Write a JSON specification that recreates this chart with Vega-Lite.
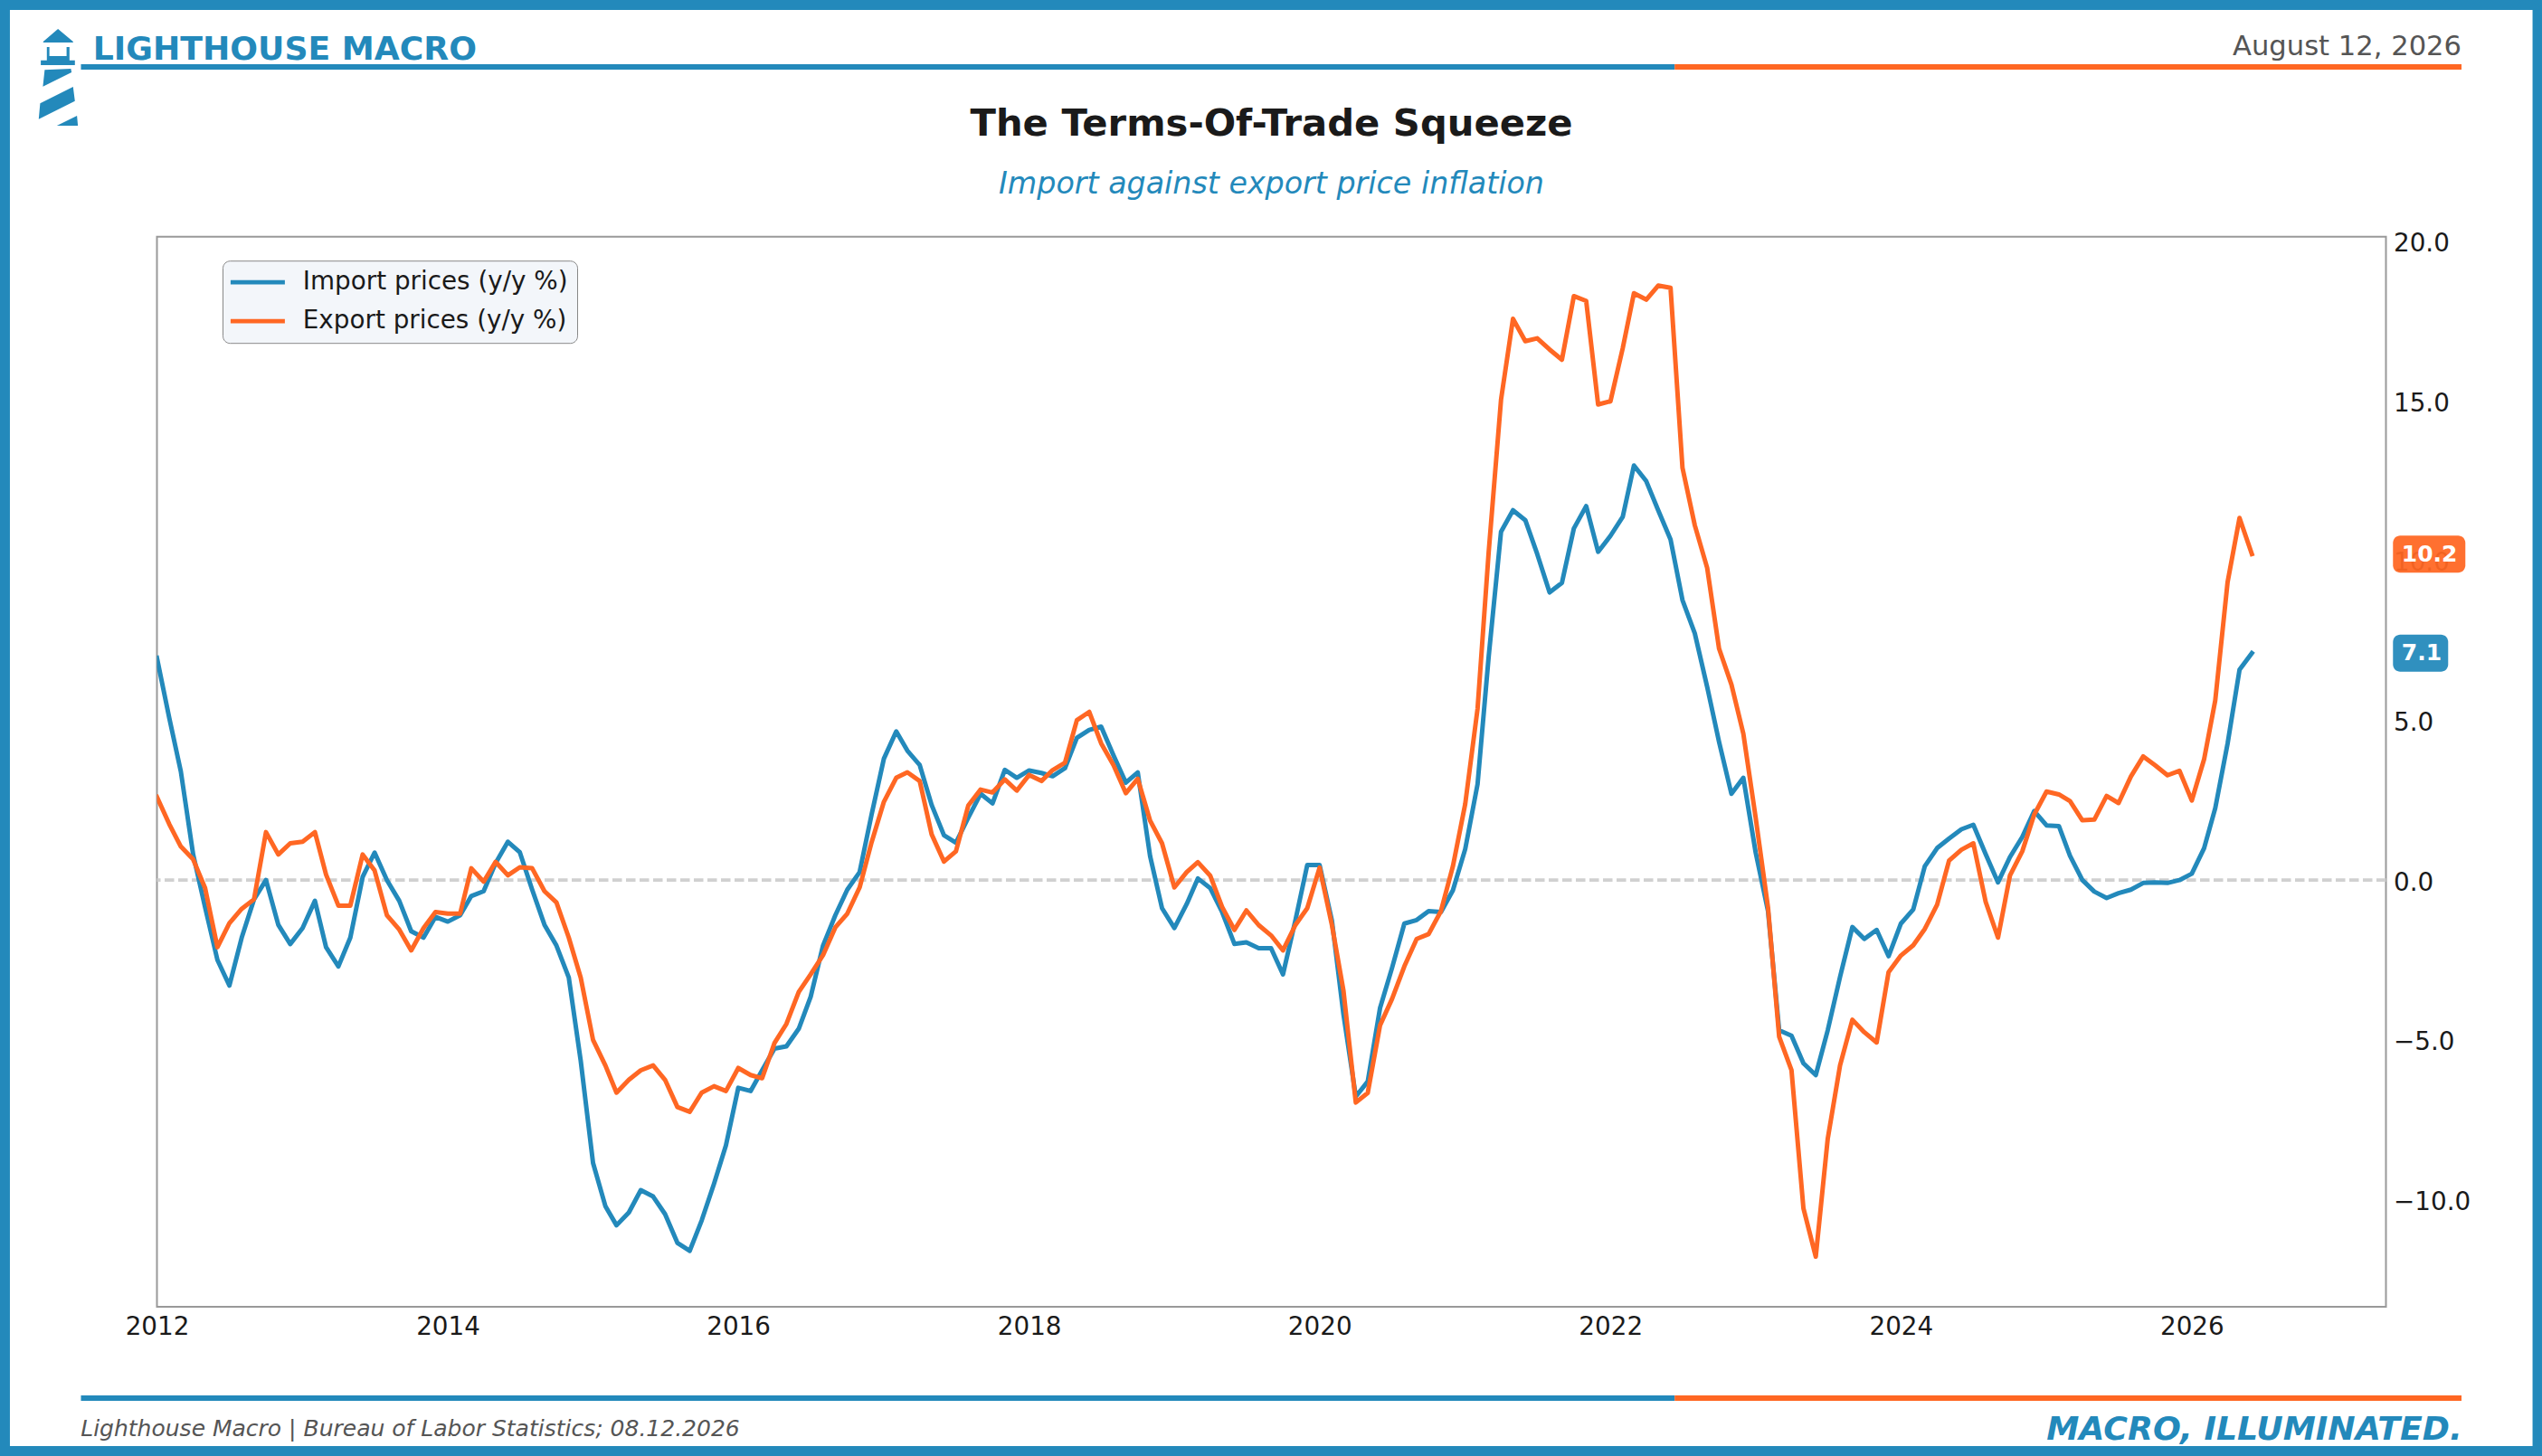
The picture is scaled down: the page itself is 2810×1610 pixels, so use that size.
{
  "$schema": "https://vega.github.io/schema/vega-lite/v6.json",
  "width": 2464,
  "height": 1183.3,
  "autosize": "none",
  "padding": {"left": 173.5, "top": 261.7, "right": 172.5, "bottom": 165},
  "background": "white",
  "title": {
    "text": "The Terms-Of-Trade Squeeze",
    "subtitle": "Import against export price inflation",
    "anchor": "middle",
    "frame": "group",
    "font": "DejaVu Sans",
    "fontSize": 41.7,
    "fontWeight": "bold",
    "color": "#1a1a1a",
    "subtitleFont": "DejaVu Sans",
    "subtitleFontSize": 33.3,
    "subtitleFontStyle": "italic",
    "subtitleColor": "#2389BB",
    "subtitlePadding": 29.5,
    "offset": -220
  },
  "datasets": {
    "imports": [
      {"date":"2012-01-01","value":6.95},{"date":"2012-02-01","value":5.07},{"date":"2012-03-01","value":3.4},{"date":"2012-04-01","value":0.8},{"date":"2012-05-01","value":-0.85},{"date":"2012-06-01","value":-2.5},{"date":"2012-07-01","value":-3.3},{"date":"2012-08-01","value":-1.8},{"date":"2012-09-01","value":-0.6},{"date":"2012-10-01","value":0},{"date":"2012-11-01","value":-1.4},{"date":"2012-12-01","value":-2.0},
      {"date":"2013-01-01","value":-1.5},{"date":"2013-02-01","value":-0.65},{"date":"2013-03-01","value":-2.1},{"date":"2013-04-01","value":-2.7},{"date":"2013-05-01","value":-1.8},{"date":"2013-06-01","value":0.1},{"date":"2013-07-01","value":0.86},{"date":"2013-08-01","value":0},{"date":"2013-09-01","value":-0.65},{"date":"2013-10-01","value":-1.6},{"date":"2013-11-01","value":-1.8},{"date":"2013-12-01","value":-1.15},
      {"date":"2014-01-01","value":-1.3},{"date":"2014-02-01","value":-1.1},{"date":"2014-03-01","value":-0.5},{"date":"2014-04-01","value":-0.35},{"date":"2014-05-01","value":0.53},{"date":"2014-06-01","value":1.2},{"date":"2014-07-01","value":0.87},{"date":"2014-08-01","value":-0.3},{"date":"2014-09-01","value":-1.4},{"date":"2014-10-01","value":-2.05},{"date":"2014-11-01","value":-3.05},{"date":"2014-12-01","value":-5.65},
      {"date":"2015-01-01","value":-8.85},{"date":"2015-02-01","value":-10.2},{"date":"2015-03-01","value":-10.8},{"date":"2015-04-01","value":-10.4},{"date":"2015-05-01","value":-9.7},{"date":"2015-06-01","value":-9.9},{"date":"2015-07-01","value":-10.45},{"date":"2015-08-01","value":-11.35},{"date":"2015-09-01","value":-11.6},{"date":"2015-10-01","value":-10.65},{"date":"2015-11-01","value":-9.5},{"date":"2015-12-01","value":-8.3},
      {"date":"2016-01-01","value":-6.5},{"date":"2016-02-01","value":-6.6},{"date":"2016-03-01","value":-5.95},{"date":"2016-04-01","value":-5.27},{"date":"2016-05-01","value":-5.2},{"date":"2016-06-01","value":-4.65},{"date":"2016-07-01","value":-3.65},{"date":"2016-08-01","value":-2.05},{"date":"2016-09-01","value":-1.1},{"date":"2016-10-01","value":-0.3},{"date":"2016-11-01","value":0.25},{"date":"2016-12-01","value":2.05},
      {"date":"2017-01-01","value":3.8},{"date":"2017-02-01","value":4.65},{"date":"2017-03-01","value":4.05},{"date":"2017-04-01","value":3.6},{"date":"2017-05-01","value":2.35},{"date":"2017-06-01","value":1.4},{"date":"2017-07-01","value":1.17},{"date":"2017-08-01","value":1.95},{"date":"2017-09-01","value":2.7},{"date":"2017-10-01","value":2.4},{"date":"2017-11-01","value":3.45},{"date":"2017-12-01","value":3.2},
      {"date":"2018-01-01","value":3.43},{"date":"2018-02-01","value":3.35},{"date":"2018-03-01","value":3.25},{"date":"2018-04-01","value":3.5},{"date":"2018-05-01","value":4.45},{"date":"2018-06-01","value":4.7},{"date":"2018-07-01","value":4.8},{"date":"2018-08-01","value":3.9},{"date":"2018-09-01","value":3.05},{"date":"2018-10-01","value":3.37},{"date":"2018-11-01","value":0.75},{"date":"2018-12-01","value":-0.88},
      {"date":"2019-01-01","value":-1.5},{"date":"2019-02-01","value":-0.75},{"date":"2019-03-01","value":0.05},{"date":"2019-04-01","value":-0.25},{"date":"2019-05-01","value":-1.0},{"date":"2019-06-01","value":-2.0},{"date":"2019-07-01","value":-1.95},{"date":"2019-08-01","value":-2.13},{"date":"2019-09-01","value":-2.13},{"date":"2019-10-01","value":-2.95},{"date":"2019-11-01","value":-1.27},{"date":"2019-12-01","value":0.47},
      {"date":"2020-01-01","value":0.47},{"date":"2020-02-01","value":-1.27},{"date":"2020-03-01","value":-4.2},{"date":"2020-04-01","value":-6.77},{"date":"2020-05-01","value":-6.3},{"date":"2020-06-01","value":-4.0},{"date":"2020-07-01","value":-2.75},{"date":"2020-08-01","value":-1.36},{"date":"2020-09-01","value":-1.25},{"date":"2020-10-01","value":-0.97},{"date":"2020-11-01","value":-1.0},{"date":"2020-12-01","value":-0.32},
      {"date":"2021-01-01","value":0.97},{"date":"2021-02-01","value":3.0},{"date":"2021-03-01","value":7.0},{"date":"2021-04-01","value":10.9},{"date":"2021-05-01","value":11.57},{"date":"2021-06-01","value":11.26},{"date":"2021-07-01","value":10.2},{"date":"2021-08-01","value":9.0},{"date":"2021-09-01","value":9.3},{"date":"2021-10-01","value":11.0},{"date":"2021-11-01","value":11.7},{"date":"2021-12-01","value":10.27},
      {"date":"2022-01-01","value":10.77},{"date":"2022-02-01","value":11.37},{"date":"2022-03-01","value":12.97},{"date":"2022-04-01","value":12.48},{"date":"2022-05-01","value":11.57},{"date":"2022-06-01","value":10.66},{"date":"2022-07-01","value":8.76},{"date":"2022-08-01","value":7.72},{"date":"2022-09-01","value":6.05},{"date":"2022-10-01","value":4.32},{"date":"2022-11-01","value":2.7},{"date":"2022-12-01","value":3.2},
      {"date":"2023-01-01","value":0.86},{"date":"2023-02-01","value":-0.97},{"date":"2023-03-01","value":-4.7},{"date":"2023-04-01","value":-4.87},{"date":"2023-05-01","value":-5.73},{"date":"2023-06-01","value":-6.1},{"date":"2023-07-01","value":-4.7},{"date":"2023-08-01","value":-3.03},{"date":"2023-09-01","value":-1.47},{"date":"2023-10-01","value":-1.84},{"date":"2023-11-01","value":-1.56},{"date":"2023-12-01","value":-2.38},
      {"date":"2024-01-01","value":-1.36},{"date":"2024-02-01","value":-0.92},{"date":"2024-03-01","value":0.43},{"date":"2024-04-01","value":1.0},{"date":"2024-05-01","value":1.3},{"date":"2024-06-01","value":1.59},{"date":"2024-07-01","value":1.73},{"date":"2024-08-01","value":0.81},{"date":"2024-09-01","value":-0.07},{"date":"2024-10-01","value":0.72},{"date":"2024-11-01","value":1.35},{"date":"2024-12-01","value":2.16},
      {"date":"2025-01-01","value":1.71},{"date":"2025-02-01","value":1.69},{"date":"2025-03-01","value":0.76},{"date":"2025-04-01","value":0},{"date":"2025-05-01","value":-0.36},{"date":"2025-06-01","value":-0.56},{"date":"2025-07-01","value":-0.41},{"date":"2025-08-01","value":-0.3},{"date":"2025-09-01","value":-0.09},{"date":"2025-10-01","value":-0.07},{"date":"2025-11-01","value":-0.09},{"date":"2025-12-01","value":0},
      {"date":"2026-01-01","value":0.2},{"date":"2026-02-01","value":1.0},{"date":"2026-03-01","value":2.25},{"date":"2026-04-01","value":4.27},{"date":"2026-05-01","value":6.58},{"date":"2026-06-01","value":7.1}
    ],
    "exports": [
      {"date":"2012-01-01","value":2.6},{"date":"2012-02-01","value":1.75},{"date":"2012-03-01","value":1.05},{"date":"2012-04-01","value":0.65},{"date":"2012-05-01","value":-0.25},{"date":"2012-06-01","value":-2.1},{"date":"2012-07-01","value":-1.35},{"date":"2012-08-01","value":-0.9},{"date":"2012-09-01","value":-0.6},{"date":"2012-10-01","value":1.5},{"date":"2012-11-01","value":0.8},{"date":"2012-12-01","value":1.15},
      {"date":"2013-01-01","value":1.2},{"date":"2013-02-01","value":1.5},{"date":"2013-03-01","value":0.17},{"date":"2013-04-01","value":-0.8},{"date":"2013-05-01","value":-0.8},{"date":"2013-06-01","value":0.8},{"date":"2013-07-01","value":0.3},{"date":"2013-08-01","value":-1.1},{"date":"2013-09-01","value":-1.55},{"date":"2013-10-01","value":-2.2},{"date":"2013-11-01","value":-1.5},{"date":"2013-12-01","value":-1.0},
      {"date":"2014-01-01","value":-1.05},{"date":"2014-02-01","value":-1.05},{"date":"2014-03-01","value":0.37},{"date":"2014-04-01","value":-0.05},{"date":"2014-05-01","value":0.57},{"date":"2014-06-01","value":0.15},{"date":"2014-07-01","value":0.4},{"date":"2014-08-01","value":0.37},{"date":"2014-09-01","value":-0.35},{"date":"2014-10-01","value":-0.7},{"date":"2014-11-01","value":-1.8},{"date":"2014-12-01","value":-3.05},
      {"date":"2015-01-01","value":-5.0},{"date":"2015-02-01","value":-5.8},{"date":"2015-03-01","value":-6.65},{"date":"2015-04-01","value":-6.25},{"date":"2015-05-01","value":-5.95},{"date":"2015-06-01","value":-5.8},{"date":"2015-07-01","value":-6.25},{"date":"2015-08-01","value":-7.1},{"date":"2015-09-01","value":-7.25},{"date":"2015-10-01","value":-6.65},{"date":"2015-11-01","value":-6.45},{"date":"2015-12-01","value":-6.6},
      {"date":"2016-01-01","value":-5.88},{"date":"2016-02-01","value":-6.1},{"date":"2016-03-01","value":-6.2},{"date":"2016-04-01","value":-5.1},{"date":"2016-05-01","value":-4.5},{"date":"2016-06-01","value":-3.5},{"date":"2016-07-01","value":-2.95},{"date":"2016-08-01","value":-2.35},{"date":"2016-09-01","value":-1.48},{"date":"2016-10-01","value":-1.05},{"date":"2016-11-01","value":-0.23},{"date":"2016-12-01","value":1.18},
      {"date":"2017-01-01","value":2.45},{"date":"2017-02-01","value":3.2},{"date":"2017-03-01","value":3.37},{"date":"2017-04-01","value":3.1},{"date":"2017-05-01","value":1.43},{"date":"2017-06-01","value":0.58},{"date":"2017-07-01","value":0.9},{"date":"2017-08-01","value":2.33},{"date":"2017-09-01","value":2.83},{"date":"2017-10-01","value":2.74},{"date":"2017-11-01","value":3.15},{"date":"2017-12-01","value":2.8},
      {"date":"2018-01-01","value":3.29},{"date":"2018-02-01","value":3.1},{"date":"2018-03-01","value":3.44},{"date":"2018-04-01","value":3.67},{"date":"2018-05-01","value":5.0},{"date":"2018-06-01","value":5.26},{"date":"2018-07-01","value":4.28},{"date":"2018-08-01","value":3.6},{"date":"2018-09-01","value":2.72},{"date":"2018-10-01","value":3.17},{"date":"2018-11-01","value":1.86},{"date":"2018-12-01","value":1.15},
      {"date":"2019-01-01","value":-0.23},{"date":"2019-02-01","value":0.25},{"date":"2019-03-01","value":0.56},{"date":"2019-04-01","value":0.14},{"date":"2019-05-01","value":-0.84},{"date":"2019-06-01","value":-1.56},{"date":"2019-07-01","value":-0.95},{"date":"2019-08-01","value":-1.41},{"date":"2019-09-01","value":-1.73},{"date":"2019-10-01","value":-2.2},{"date":"2019-11-01","value":-1.41},{"date":"2019-12-01","value":-0.88},
      {"date":"2020-01-01","value":0.39},{"date":"2020-02-01","value":-1.41},{"date":"2020-03-01","value":-3.46},{"date":"2020-04-01","value":-6.96},{"date":"2020-05-01","value":-6.66},{"date":"2020-06-01","value":-4.54},{"date":"2020-07-01","value":-3.72},{"date":"2020-08-01","value":-2.7},{"date":"2020-09-01","value":-1.84},{"date":"2020-10-01","value":-1.69},{"date":"2020-11-01","value":-0.97},{"date":"2020-12-01","value":0.43},
      {"date":"2021-01-01","value":2.38},{"date":"2021-02-01","value":5.36},{"date":"2021-03-01","value":10.27},{"date":"2021-04-01","value":15.03},{"date":"2021-05-01","value":17.56},{"date":"2021-06-01","value":16.86},{"date":"2021-07-01","value":16.95},{"date":"2021-08-01","value":16.6},{"date":"2021-09-01","value":16.28},{"date":"2021-10-01","value":18.27},{"date":"2021-11-01","value":18.12},{"date":"2021-12-01","value":14.88},
      {"date":"2022-01-01","value":14.98},{"date":"2022-02-01","value":16.65},{"date":"2022-03-01","value":18.36},{"date":"2022-04-01","value":18.16},{"date":"2022-05-01","value":18.6},{"date":"2022-06-01","value":18.53},{"date":"2022-07-01","value":12.9},{"date":"2022-08-01","value":11.1},{"date":"2022-09-01","value":9.77},{"date":"2022-10-01","value":7.24},{"date":"2022-11-01","value":6.12},{"date":"2022-12-01","value":4.58},
      {"date":"2023-01-01","value":1.95},{"date":"2023-02-01","value":-0.86},{"date":"2023-03-01","value":-4.9},{"date":"2023-04-01","value":-5.95},{"date":"2023-05-01","value":-10.27},{"date":"2023-06-01","value":-11.78},{"date":"2023-07-01","value":-8.1},{"date":"2023-08-01","value":-5.8},{"date":"2023-09-01","value":-4.37},{"date":"2023-10-01","value":-4.76},{"date":"2023-11-01","value":-5.08},{"date":"2023-12-01","value":-2.88},
      {"date":"2024-01-01","value":-2.36},{"date":"2024-02-01","value":-2.04},{"date":"2024-03-01","value":-1.53},{"date":"2024-04-01","value":-0.77},{"date":"2024-05-01","value":0.61},{"date":"2024-06-01","value":0.95},{"date":"2024-07-01","value":1.15},{"date":"2024-08-01","value":-0.68},{"date":"2024-09-01","value":-1.8},{"date":"2024-10-01","value":0.14},{"date":"2024-11-01","value":0.9},{"date":"2024-12-01","value":2.05},
      {"date":"2025-01-01","value":2.77},{"date":"2025-02-01","value":2.68},{"date":"2025-03-01","value":2.47},{"date":"2025-04-01","value":1.87},{"date":"2025-05-01","value":1.89},{"date":"2025-06-01","value":2.63},{"date":"2025-07-01","value":2.41},{"date":"2025-08-01","value":3.24},{"date":"2025-09-01","value":3.87},{"date":"2025-10-01","value":3.59},{"date":"2025-11-01","value":3.28},{"date":"2025-12-01","value":3.42},
      {"date":"2026-01-01","value":2.49},{"date":"2026-02-01","value":3.78},{"date":"2026-03-01","value":5.62},{"date":"2026-04-01","value":9.32},{"date":"2026-05-01","value":11.33},{"date":"2026-06-01","value":10.2}
    ],
    "latest": [
      {"date":"2026-06-01","series":"Export","value":10.2},
      {"date":"2026-06-01","series":"Import","value":7.1}
    ]
  },
  "layer": [
    {
      "layer": [
        {
          "data": {"values": [{}]},
          "mark": {"type": "rule", "color": "#d0d0d0", "strokeWidth": 3.6, "strokeDash": [10.5, 4.5]},
          "encoding": {
            "y": {"datum": 0, "type": "quantitative", "scale": {"domain": [-13.35, 20.13], "nice": false, "zero": false}}
          }
        },
        {
          "data": {"name": "imports"},
          "mark": {"type": "line", "strokeWidth": 5, "strokeJoin": "round", "strokeCap": "square", "clip": true},
          "encoding": {
            "x": {
              "field": "date",
              "type": "temporal",
              "title": null,
              "scale": {"type": "utc", "domain": ["2012-01-01", "2027-05-04"], "nice": false},
              "axis": {
                "orient": "bottom",
                "format": "%Y",
                "tickCount": {"interval": "year", "step": 2},
                "grid": false,
                "domain": false,
                "ticks": false,
                "labelFlush": false,
                "labelOverlap": false,
                "labelPadding": 8,
                "labelFont": "DejaVu Sans",
                "labelFontSize": 27.8,
                "labelColor": "#1a1a1a"
              }
            },
            "y": {
              "field": "value",
              "type": "quantitative",
              "title": null,
              "scale": {"domain": [-13.35, 20.13], "nice": false, "zero": false},
              "axis": {
                "orient": "right",
                "values": [-10, -5, 0, 5, 10, 15, 20],
                "format": ".1f",
                "grid": false,
                "domain": false,
                "ticks": false,
                "labelPadding": 8,
                "labelOffset": 3,
                "labelFont": "DejaVu Sans",
                "labelFontSize": 27.8,
                "labelColor": "#1a1a1a"
              }
            },
            "color": {
              "datum": "Import prices (y/y %)",
              "scale": {"domain": ["Import prices (y/y %)", "Export prices (y/y %)"], "range": ["#2389BB", "#FF6723"]},
              "legend": {
                "title": null,
                "orient": "none",
                "legendX": 72.5,
                "legendY": 26.5,
                "symbolType": "M-6,0H6",
                "symbolSize": 100,
                "symbolStrokeWidth": 4.7,
                "symbolOffset": 15,
                "labelOffset": 36,
                "labelLimit": 420,
                "labelFont": "DejaVu Sans",
                "labelFontSize": 27.8,
                "labelColor": "#1a1a1a",
                "rowPadding": 14,
                "padding": 10,
                "fillColor": "#f3f6fa",
                "strokeColor": "#888888",
                "cornerRadius": 8,
                "encoding": {"legend": {"strokeWidth": 3}}
              }
            }
          }
        },
        {
          "data": {"name": "exports"},
          "mark": {"type": "line", "strokeWidth": 5, "strokeJoin": "round", "strokeCap": "square", "clip": true},
          "encoding": {
            "x": {"field": "date", "type": "temporal"},
            "y": {"field": "value", "type": "quantitative"},
            "color": {"datum": "Export prices (y/y %)"}
          }
        },
        {
          "data": {"name": "latest"},
          "transform": [{"filter": "datum.series == 'Export'"}],
          "mark": {"type": "rect", "color": "#FF6723", "opacity": 0.94, "cornerRadius": 8, "xOffset": 156, "x2Offset": 236, "yOffset": -20.5, "y2Offset": 20.5},
          "encoding": {
            "x": {"field": "date", "type": "temporal"},
            "x2": {"field": "date"},
            "y": {"field": "value", "type": "quantitative"},
            "y2": {"field": "value"}
          }
        },
        {
          "data": {"name": "latest"},
          "transform": [{"filter": "datum.series == 'Import'"}],
          "mark": {"type": "rect", "color": "#2389BB", "opacity": 0.94, "cornerRadius": 8, "xOffset": 156, "x2Offset": 217, "yOffset": -20.5, "y2Offset": 20.5},
          "encoding": {
            "x": {"field": "date", "type": "temporal"},
            "x2": {"field": "date"},
            "y": {"field": "value", "type": "quantitative"},
            "y2": {"field": "value"}
          }
        },
        {
          "data": {"name": "latest"},
          "mark": {"type": "text", "align": "left", "baseline": "middle", "dx": 165.5, "font": "DejaVu Sans", "fontSize": 25, "fontWeight": "bold", "color": "white"},
          "encoding": {
            "x": {"field": "date", "type": "temporal"},
            "y": {"field": "value", "type": "quantitative"},
            "text": {"field": "value", "type": "quantitative", "format": ".1f"}
          }
        }
      ]
    },
    {
      "data": {"values": [{}]},
      "layer": [
        {
          "mark": {"type": "rect", "fillOpacity": 0, "stroke": "#2389BB", "strokeWidth": 11},
          "encoding": {
            "x": {"datum": -0.0682, "type": "quantitative", "scale": {"domain": [0, 1], "nice": false, "zero": false}, "axis": null},
            "x2": {"datum": 1.068},
            "y": {"datum": 1.2165, "type": "quantitative", "scale": {"domain": [0, 1], "nice": false, "zero": false}, "axis": null},
            "y2": {"datum": -0.1348}
          }
        },
        {
          "mark": {"type": "rect", "color": "#2389BB"},
          "encoding": {
            "x": {"datum": -0.0341, "type": "quantitative", "scale": {"domain": [0, 1], "nice": false, "zero": false}, "axis": null},
            "x2": {"datum": 0.6809},
            "y": {"datum": 1.1612, "type": "quantitative", "scale": {"domain": [0, 1], "nice": false, "zero": false}, "axis": null},
            "y2": {"datum": 1.1561}
          }
        },
        {
          "mark": {"type": "rect", "color": "#FF6723"},
          "encoding": {
            "x": {"datum": 0.6809, "type": "quantitative", "scale": {"domain": [0, 1], "nice": false, "zero": false}, "axis": null},
            "x2": {"datum": 1.0339},
            "y": {"datum": 1.1612, "type": "quantitative", "scale": {"domain": [0, 1], "nice": false, "zero": false}, "axis": null},
            "y2": {"datum": 1.1561}
          }
        },
        {
          "mark": {"type": "rect", "color": "#2389BB"},
          "encoding": {
            "x": {"datum": -0.0341, "type": "quantitative", "scale": {"domain": [0, 1], "nice": false, "zero": false}, "axis": null},
            "x2": {"datum": 0.6809},
            "y": {"datum": -0.0828, "type": "quantitative", "scale": {"domain": [0, 1], "nice": false, "zero": false}, "axis": null},
            "y2": {"datum": -0.0879}
          }
        },
        {
          "mark": {"type": "rect", "color": "#FF6723"},
          "encoding": {
            "x": {"datum": 0.6809, "type": "quantitative", "scale": {"domain": [0, 1], "nice": false, "zero": false}, "axis": null},
            "x2": {"datum": 1.0339},
            "y": {"datum": -0.0828, "type": "quantitative", "scale": {"domain": [0, 1], "nice": false, "zero": false}, "axis": null},
            "y2": {"datum": -0.0879}
          }
        },
        {
          "mark": {"type": "text", "text": "LIGHTHOUSE MACRO", "align": "left", "baseline": "alphabetic", "font": "DejaVu Sans", "fontSize": 36.2, "fontWeight": "bold", "color": "#2389BB"},
          "encoding": {
            "x": {"datum": -0.0287, "type": "quantitative", "scale": {"domain": [0, 1], "nice": false, "zero": false}, "axis": null},
            "y": {"datum": 1.165, "type": "quantitative", "scale": {"domain": [0, 1], "nice": false, "zero": false}, "axis": null}
          }
        },
        {
          "mark": {"type": "text", "text": "August 12, 2026", "align": "right", "baseline": "alphabetic", "font": "DejaVu Sans", "fontSize": 30.6, "color": "#555555"},
          "encoding": {
            "x": {"datum": 1.0339, "type": "quantitative", "scale": {"domain": [0, 1], "nice": false, "zero": false}, "axis": null},
            "y": {"datum": 1.1695, "type": "quantitative", "scale": {"domain": [0, 1], "nice": false, "zero": false}, "axis": null}
          }
        },
        {
          "mark": {"type": "text", "text": "Lighthouse Macro | Bureau of Labor Statistics; 08.12.2026", "align": "left", "baseline": "alphabetic", "font": "DejaVu Sans", "fontSize": 25, "fontStyle": "italic", "color": "#555555"},
          "encoding": {
            "x": {"datum": -0.0342, "type": "quantitative", "scale": {"domain": [0, 1], "nice": false, "zero": false}, "axis": null},
            "y": {"datum": -0.1205, "type": "quantitative", "scale": {"domain": [0, 1], "nice": false, "zero": false}, "axis": null}
          }
        },
        {
          "mark": {"type": "text", "text": "MACRO, ILLUMINATED.", "align": "right", "baseline": "alphabetic", "font": "DejaVu Sans", "fontSize": 36.3, "fontStyle": "italic", "fontWeight": "bold", "color": "#2389BB"},
          "encoding": {
            "x": {"datum": 1.0342, "type": "quantitative", "scale": {"domain": [0, 1], "nice": false, "zero": false}, "axis": null},
            "y": {"datum": -0.1242, "type": "quantitative", "scale": {"domain": [0, 1], "nice": false, "zero": false}, "axis": null}
          }
        },
        {
          "mark": {
            "type": "point",
            "filled": true,
            "opacity": 1,
            "size": 4,
            "color": "#2389BB",
            "shape": "M-16.3,-40L0,-54L16.7,-40L16.7,-39L-16.3,-39ZM-19,-19.3L18.7,-19.3L18.7,-14L-19,-14ZM-12.3,-34L-9.5,-34L-9.5,-24L9.5,-24L9.5,-34L12.7,-34L12.7,-19.3L-12.3,-19.3ZM-14.7,-8.7L14.3,-10L15,-6L-16.7,9.7ZM16.7,10L18.7,25.7L-21.3,45.7L-19.7,28.3ZM21,42L22,53L-1.3,53Z"
          },
          "encoding": {
            "x": {"datum": -0.0444, "type": "quantitative", "scale": {"domain": [0, 1], "nice": false, "zero": false}, "axis": null},
            "y": {"datum": 1.1485, "type": "quantitative", "scale": {"domain": [0, 1], "nice": false, "zero": false}, "axis": null}
          }
        }
      ]
    }
  ],
  "resolve": {"scale": {"x": "independent", "y": "independent"}},
  "config": {"view": {"stroke": "#999999", "strokeWidth": 2}}
}
